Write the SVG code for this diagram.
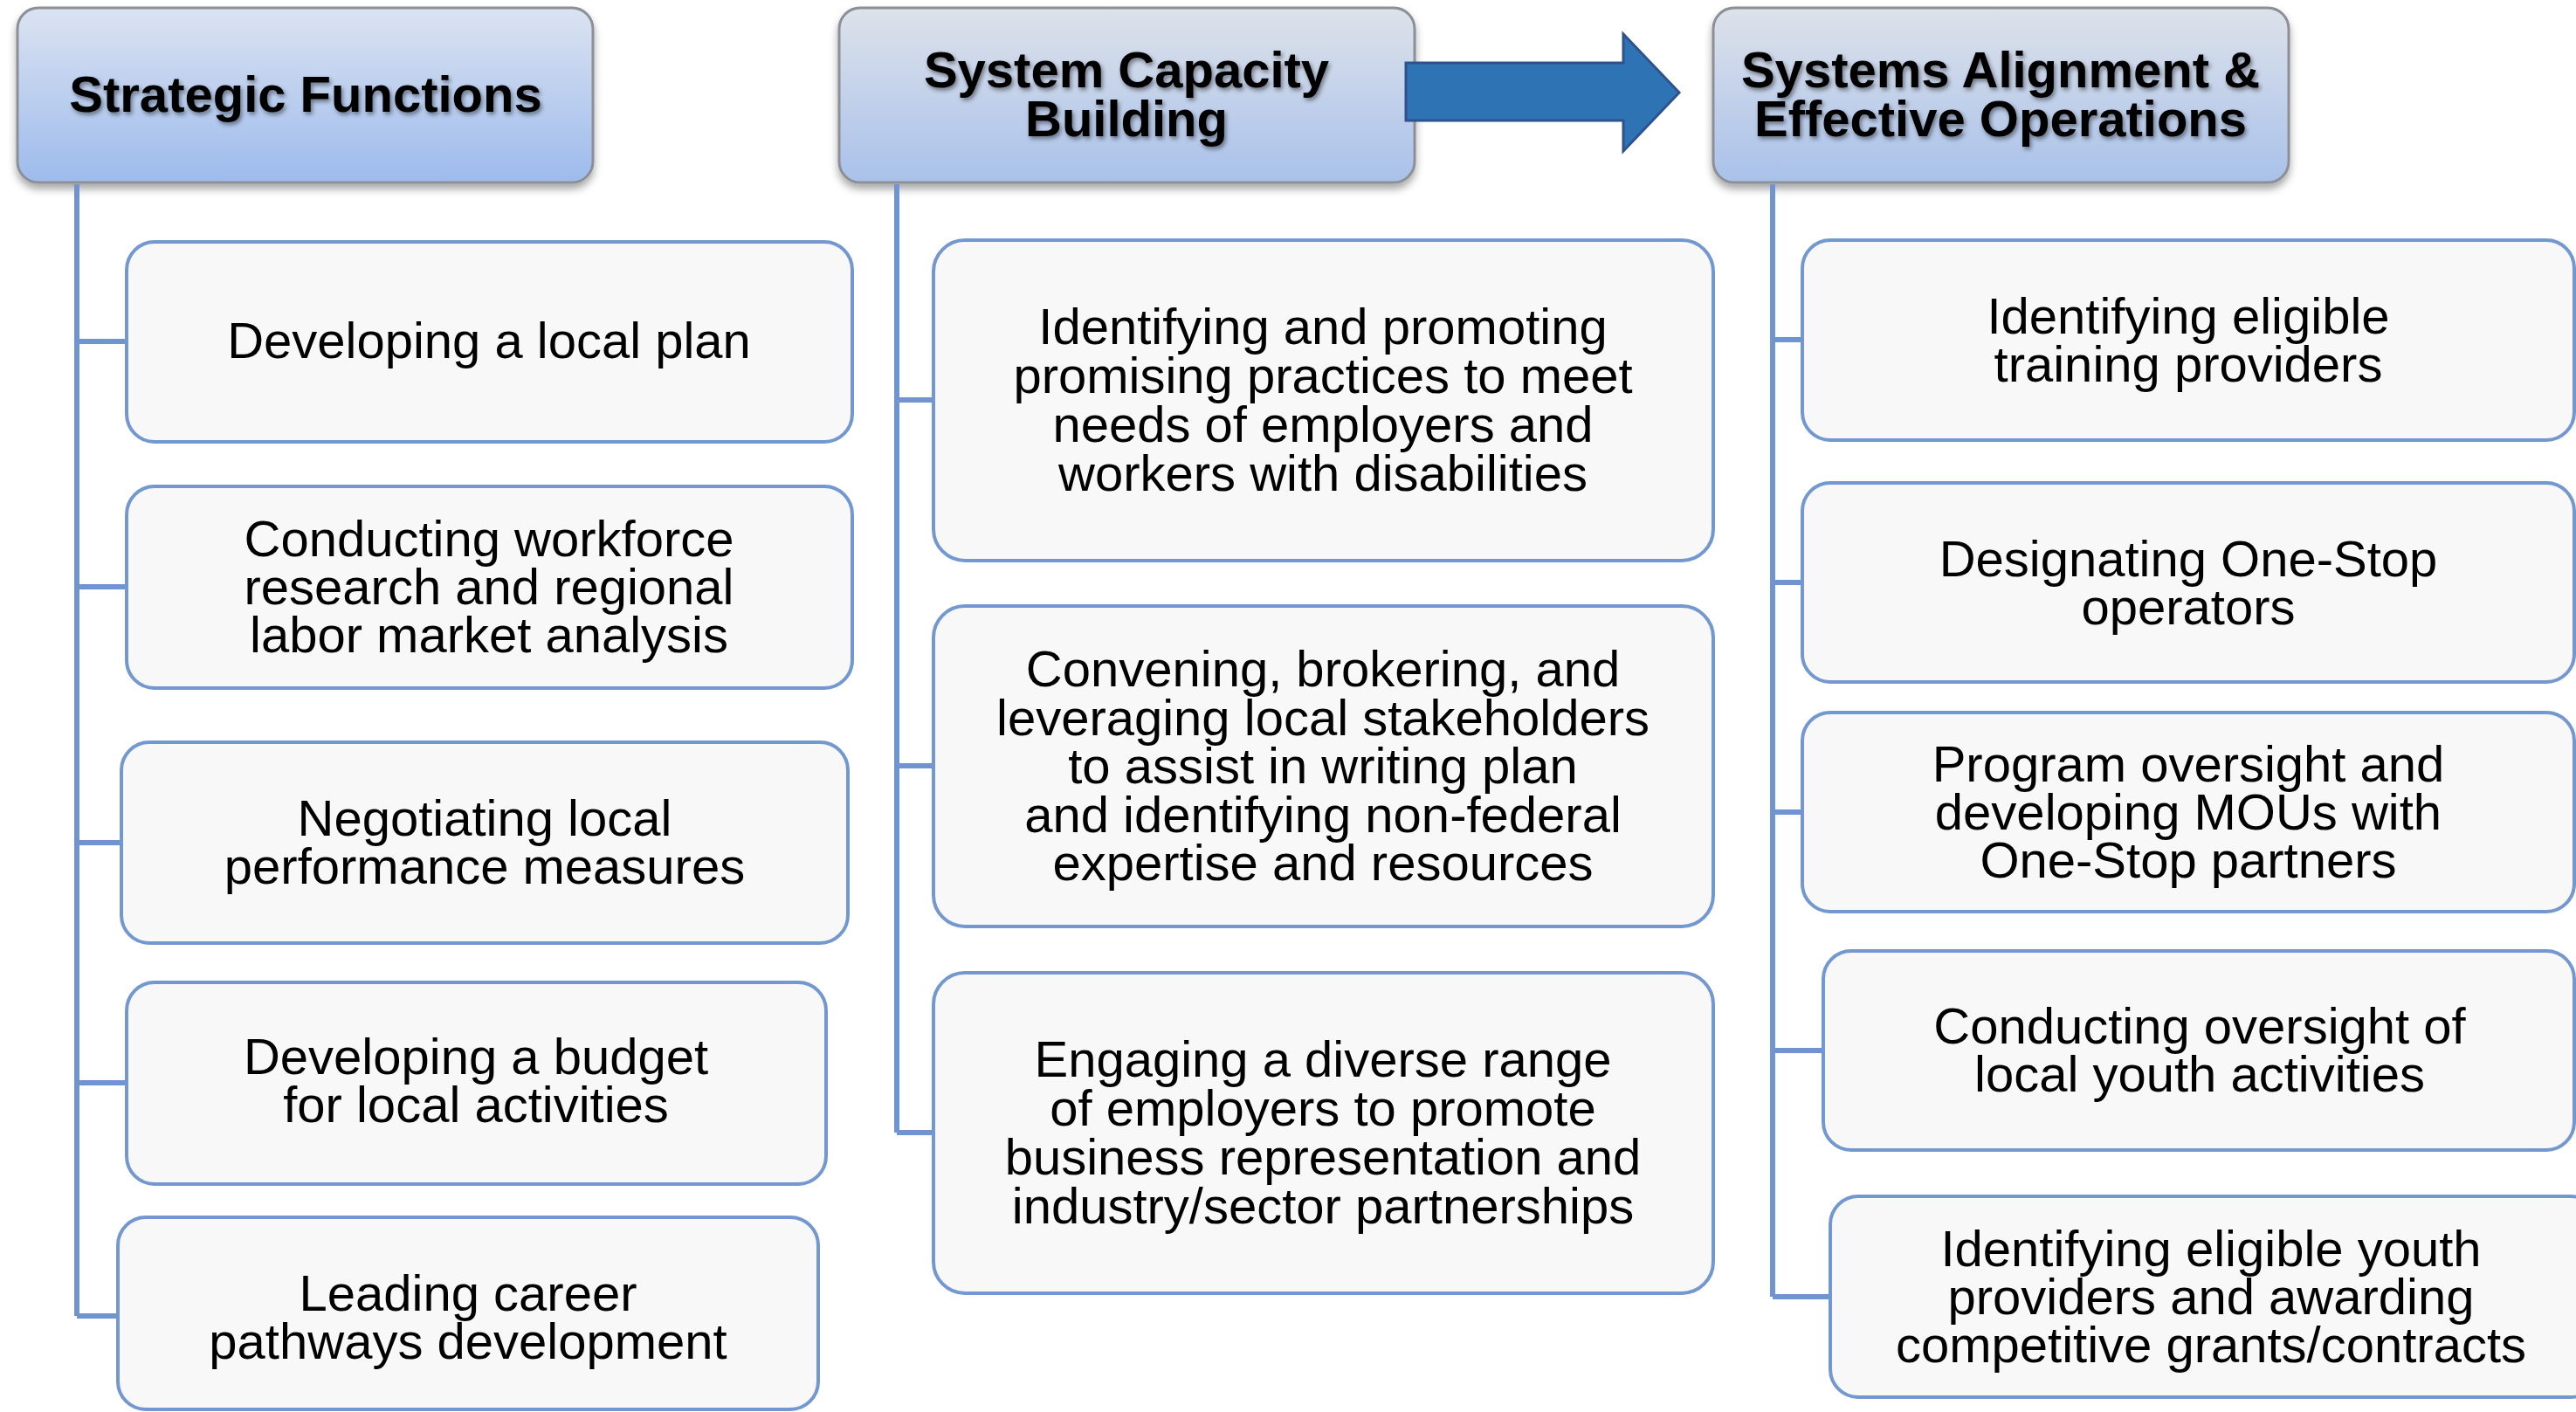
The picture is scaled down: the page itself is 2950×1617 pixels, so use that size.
<svg xmlns="http://www.w3.org/2000/svg" width="2950" height="1617" viewBox="0 0 2950 1617">
<defs>
<linearGradient id="hg1" x1="0" y1="0" x2="0" y2="1">
<stop offset="0" stop-color="#dbe3f1"/>
<stop offset="1" stop-color="#9dbbec"/>
</linearGradient>
<linearGradient id="hg2" x1="0" y1="0" x2="0" y2="1">
<stop offset="0" stop-color="#dde2ea"/>
<stop offset="1" stop-color="#a9c1ea"/>
</linearGradient>
<filter id="boxShadow" x="-10%" y="-10%" width="120%" height="130%">
<feDropShadow dx="0" dy="6" stdDeviation="5" flood-color="#000" flood-opacity="0.35"/>
</filter>
<filter id="txtShadow" x="-10%" y="-20%" width="120%" height="150%">
<feDropShadow dx="2" dy="3" stdDeviation="2.5" flood-color="#000" flood-opacity="0.45"/>
</filter>
<style>
.hdr{stroke:#8c8f96;stroke-width:3;filter:url(#boxShadow)}
.htxt{font-family:"Liberation Sans",Arial,sans-serif;font-weight:bold;font-size:58px;fill:#000;text-anchor:middle;filter:url(#txtShadow)}
.child{fill:#f8f8f8;stroke:#7398d0;stroke-width:4}
.ctxt{font-family:"Liberation Sans",Arial,sans-serif;font-size:58px;fill:#000;text-anchor:middle}
.conn{fill:none;stroke:#6f94cf;stroke-width:6}
</style>
</defs>
<rect width="2950" height="1617" fill="#ffffff"/>

<g id="h1">
<rect class="hdr" x="20" y="9" width="659" height="200" rx="24" fill="url(#hg1)"/>
<text class="htxt" x="350" y="128">Strategic Functions</text>
</g>
<g id="h2">
<rect class="hdr" x="961" y="9" width="659" height="200" rx="24" fill="url(#hg2)"/>
<text class="htxt" x="1290" y="100">System Capacity</text>
<text class="htxt" x="1290" y="156">Building</text>
</g>
<g id="h3">
<rect class="hdr" x="1962" y="9" width="659" height="200" rx="24" fill="url(#hg2)"/>
<text class="htxt" x="2291" y="100">Systems Alignment &amp;</text>
<text class="htxt" x="2291" y="156">Effective Operations</text>
</g>

<g id="c1-1">
<rect class="child" x="145" y="277" width="831" height="229" rx="32"/>
<text class="ctxt" x="560" y="410">Developing a local plan</text>
</g>
<g id="c1-2">
<rect class="child" x="145" y="557" width="831" height="231" rx="32"/>
<text class="ctxt" x="560" y="637">Conducting workforce</text>
<text class="ctxt" x="560" y="692">research and regional</text>
<text class="ctxt" x="560" y="747">labor market analysis</text>
</g>
<g id="c1-3">
<rect class="child" x="139" y="850" width="832" height="230" rx="32"/>
<text class="ctxt" x="555" y="957">Negotiating local</text>
<text class="ctxt" x="555" y="1012">performance measures</text>
</g>
<g id="c1-4">
<rect class="child" x="145" y="1125" width="801" height="231" rx="32"/>
<text class="ctxt" x="545" y="1230">Developing a budget</text>
<text class="ctxt" x="545" y="1285">for local activities</text>
</g>
<g id="c1-5">
<rect class="child" x="135" y="1394" width="802" height="220" rx="32"/>
<text class="ctxt" x="536" y="1501">Leading career</text>
<text class="ctxt" x="536" y="1556">pathways development</text>
</g>

<g id="c2-1">
<rect class="child" x="1069" y="275" width="893" height="367" rx="36"/>
<text class="ctxt" x="1515" y="394">Identifying and promoting</text>
<text class="ctxt" x="1515" y="450">promising practices to meet</text>
<text class="ctxt" x="1515" y="506">needs of employers and</text>
<text class="ctxt" x="1515" y="562">workers with disabilities</text>
</g>
<g id="c2-2">
<rect class="child" x="1069" y="694" width="893" height="367" rx="36"/>
<text class="ctxt" x="1515" y="786">Convening, brokering, and</text>
<text class="ctxt" x="1515" y="842">leveraging local stakeholders</text>
<text class="ctxt" x="1515" y="897">to assist in writing plan</text>
<text class="ctxt" x="1515" y="953">and identifying non-federal</text>
<text class="ctxt" x="1515" y="1008">expertise and resources</text>
</g>
<g id="c2-3">
<rect class="child" x="1069" y="1114" width="893" height="367" rx="36"/>
<text class="ctxt" x="1515" y="1233">Engaging a diverse range</text>
<text class="ctxt" x="1515" y="1289">of employers to promote</text>
<text class="ctxt" x="1515" y="1345">business representation and</text>
<text class="ctxt" x="1515" y="1401">industry/sector partnerships</text>
</g>

<g id="c3-1">
<rect class="child" x="2064" y="275" width="884" height="229" rx="32"/>
<text class="ctxt" x="2506" y="382">Identifying eligible</text>
<text class="ctxt" x="2506" y="437">training providers</text>
</g>
<g id="c3-2">
<rect class="child" x="2064" y="553" width="884" height="228" rx="32"/>
<text class="ctxt" x="2506" y="660">Designating One-Stop</text>
<text class="ctxt" x="2506" y="715">operators</text>
</g>
<g id="c3-3">
<rect class="child" x="2064" y="816" width="884" height="228" rx="32"/>
<text class="ctxt" x="2506" y="895">Program oversight and</text>
<text class="ctxt" x="2506" y="950">developing MOUs with</text>
<text class="ctxt" x="2506" y="1005">One-Stop partners</text>
</g>
<g id="c3-4">
<rect class="child" x="2088" y="1089" width="860" height="228" rx="32"/>
<text class="ctxt" x="2519" y="1195">Conducting oversight of</text>
<text class="ctxt" x="2519" y="1250">local youth activities</text>
</g>
<g id="c3-5">
<rect class="child" x="2096" y="1370" width="880" height="230" rx="32"/>
<text class="ctxt" x="2532" y="1450">Identifying eligible youth</text>
<text class="ctxt" x="2532" y="1505">providers and awarding</text>
<text class="ctxt" x="2532" y="1560">competitive grants/contracts</text>
</g>

<g id="connectors">
<path class="conn" d="M88 211 V1507 M88 391 H143 M88 672 H143 M88 965 H137 M88 1240 H143 M88 1507 H133"/>
<path class="conn" d="M1027 211 V1297 M1027 458 H1067 M1027 877 H1067 M1027 1297 H1067"/>
<path class="conn" d="M2030 211 V1485 M2030 389 H2062 M2030 667 H2062 M2030 930 H2062 M2030 1203 H2086 M2030 1485 H2094"/>
<polygon id="flow-arrow" points="1610,72 1859,72 1859,39 1923,106 1859,173 1859,138 1610,138" fill="#2e74b5" stroke="#2f528f" stroke-width="3"/>
</g>
</svg>
